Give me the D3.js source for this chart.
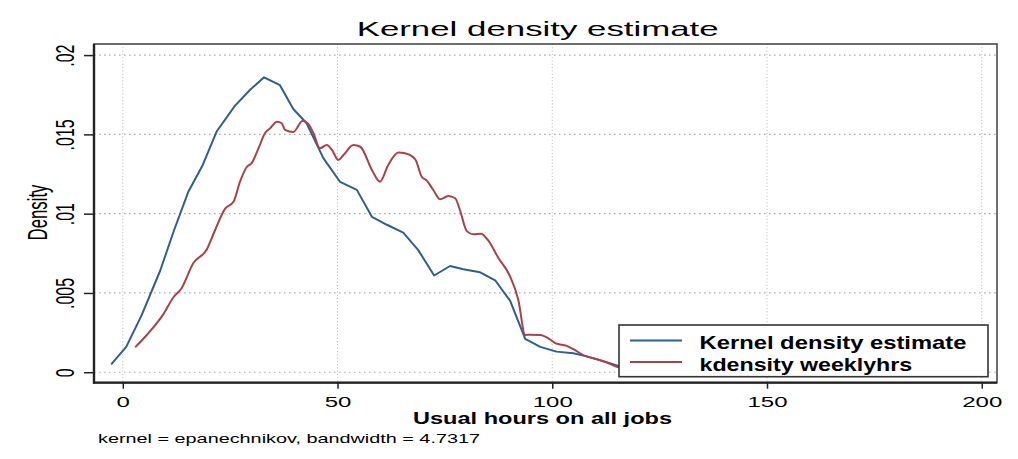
<!DOCTYPE html>
<html>
<head>
<meta charset="utf-8">
<script src="https://cdn.jsdelivr.net/npm/d3@7"></script>
<style>
  html, body { margin: 0; padding: 0; background: #fff; }
  svg { display: block; }
  text { font-family: "Liberation Sans", Arial, Helvetica, sans-serif; fill: #000; }
</style>
</head>
<body>
<svg id="chart" width="1018" height="459"></svg>
<script>
// Usual weekly hours: x (hours) and estimated density
const kdeHours = [-2.7, 0.8, 4.4, 8.7, 12.0, 15.3, 18.5, 21.9, 26.1, 29.6, 32.9, 36.6, 39.7, 42.8,
  46.7, 50.6, 54.5, 58.0, 61.5, 65.3, 68.8, 72.5, 76.2, 79.3, 83.2, 86.7, 90.2, 93.7, 97.2,
  101.0, 104.9, 108.0, 111.9, 115.4, 119.0, 122.6];
const kdeDensity = [0.0005, 0.0016, 0.0036, 0.0064, 0.0090, 0.0114, 0.0130, 0.0152, 0.0168, 0.0178,
  0.0186, 0.0181, 0.0166, 0.0157, 0.0135, 0.0120, 0.0115, 0.0098, 0.0093, 0.0088, 0.0077, 0.0061,
  0.0067, 0.0065, 0.0063, 0.0058, 0.0045, 0.0021, 0.0016, 0.0013, 0.0012, 0.0010, 0.0007, 0.0004,
  0.0002, 0.0001];

const weeklyHours = [2.9, 5.6, 9.5, 11.8, 13.7, 16.4, 19.6, 21.5, 23.8, 25.8, 27.3, 28.9, 30.0, 31.6,
  33.1, 34.3, 35.9, 37.0, 37.8, 39.7, 41.9, 43.2, 44.4, 45.9, 47.5, 48.7, 50.2, 51.4, 53.7, 55.3,
  58.0, 59.9, 61.8, 64.2, 65.7, 68.1, 69.6, 70.8, 72.3, 73.9, 75.8, 77.4, 78.5, 80.1, 81.6, 83.4,
  85.0, 87.5, 90.2, 92.1, 93.7, 94.8, 97.2, 99.1, 100.7, 103.4, 104.9, 107.6, 110.4, 112.7, 115.0,
  118.0, 122.0];
const weeklyDensity = [0.00158, 0.00235, 0.00368, 0.00473, 0.00530, 0.00687, 0.00776, 0.00897,
  0.01030, 0.01076, 0.01202, 0.01296, 0.01318, 0.01412, 0.01507, 0.01538, 0.01580, 0.01570, 0.01528,
  0.01515, 0.01586, 0.01566, 0.01507, 0.01412, 0.01433, 0.01402, 0.01339, 0.01370, 0.01433, 0.01422,
  0.01276, 0.01202, 0.01307, 0.01385, 0.01381, 0.01343, 0.01233, 0.01208, 0.01149, 0.01091, 0.01112,
  0.01097, 0.01023, 0.00890, 0.00870, 0.00874, 0.00834, 0.00719, 0.00603, 0.00456, 0.00235, 0.00237,
  0.00235, 0.00214, 0.00183, 0.00166, 0.00145, 0.00103, 0.00082, 0.00061, 0.00035, 0.00020, 0.00010];

const xTickValues = [0, 50, 100, 150, 200];
const yTickValues = [0, 0.005, 0.01, 0.015, 0.02];
const yTickLabels = ["0", ".005", ".01", ".015", ".02"];
const seriesNames = ["Kernel density estimate", "kdensity weeklyhrs"];
const titleText = "Kernel density estimate";
const xTitle = "Usual hours on all jobs";
const yTitle = "Density";
const noteText = "kernel = epanechnikov, bandwidth = 4.7317";

const blue = "#2f5f8c";
const red = "#a6434a";

const svg = d3.select("#chart");
const plot = { left: 94, right: 997, top: 44, bottom: 382.7 };

const x = d3.scaleLinear().domain([-6.7, 203.55]).range([plot.left, plot.right]);
const y = d3.scaleLinear().domain([-0.00066, 0.0207]).range([plot.bottom, plot.top]);

// gridlines
const grid = svg.append("g");
grid.selectAll("line.h").data(yTickValues).join("line")
  .attr("x1", plot.left).attr("x2", plot.right)
  .attr("y1", d => y(d)).attr("y2", d => y(d))
  .attr("stroke", "#aaaaaa").attr("stroke-width", 1.2)
  .attr("stroke-dasharray", "1.6 3.4");
grid.selectAll("line.v").data(xTickValues).join("line")
  .attr("y1", plot.top).attr("y2", plot.bottom)
  .attr("x1", d => x(d)).attr("x2", d => x(d))
  .attr("stroke", "#b4b4b4").attr("stroke-width", 1)
  .attr("stroke-dasharray", "1 2.3");

// plot region outline
svg.append("rect")
  .attr("x", plot.left).attr("y", plot.top)
  .attr("width", plot.right - plot.left).attr("height", plot.bottom - plot.top)
  .attr("fill", "none").attr("stroke", "#4a4a4a").attr("stroke-width", 1.6);

// curves
const clip = svg.append("clipPath").attr("id", "plotclip").append("rect")
  .attr("x", plot.left).attr("y", plot.top)
  .attr("width", plot.right - plot.left).attr("height", plot.bottom - plot.top);

const kdePts = kdeHours.map((h, i) => [h, kdeDensity[i]]);
const weeklyPts = weeklyHours.map((h, i) => [h, weeklyDensity[i]]);

const lineLinear = d3.line().x(d => x(d[0])).y(d => y(d[1]));
const lineSmooth = d3.line().x(d => x(d[0])).y(d => y(d[1])).curve(d3.curveMonotoneX);

const curves = svg.append("g").attr("clip-path", "url(#plotclip)");
curves.append("path").datum(kdePts).attr("d", lineLinear)
  .attr("fill", "none").attr("stroke", blue).attr("stroke-width", 2).attr("stroke-linejoin", "round");
curves.append("path").datum(weeklyPts).attr("d", lineSmooth)
  .attr("fill", "none").attr("stroke", red).attr("stroke-width", 2).attr("stroke-linejoin", "round");

// axes
const xAxis = svg.append("g").attr("transform", `translate(0,${plot.bottom})`)
  .call(d3.axisBottom(x).tickValues(xTickValues).tickSize(6).tickSizeOuter(0).tickFormat(d3.format("d")));
xAxis.select(".domain").remove();
xAxis.selectAll(".tick line").attr("stroke", "#222").attr("stroke-width", 1.5);
xAxis.selectAll(".tick text")
  .attr("y", 24).attr("dy", 0)
  .attr("font-size", 15)
  .attr("transform", "scale(1.6,1)")
  .style("font-family", "'Liberation Sans', Arial, sans-serif");

const yAxis = svg.append("g").attr("transform", `translate(${plot.left},0)`)
  .call(d3.axisLeft(y).tickValues(yTickValues).tickSize(10).tickSizeOuter(0)
    .tickFormat((d, i) => yTickLabels[i]));
yAxis.select(".domain").remove();
yAxis.selectAll(".tick line").attr("stroke", "#222").attr("stroke-width", 1.5);
yAxis.selectAll(".tick text")
  .attr("x", null).attr("dy", null)
  .attr("text-anchor", "middle")
  .attr("font-size", 16)
  .attr("transform", "translate(-20,0) scale(1.6,1) rotate(-90)")
  .style("font-family", "'Liberation Sans', Arial, sans-serif");

// axis lines
svg.append("line").attr("x1", plot.left).attr("x2", plot.left)
  .attr("y1", plot.top).attr("y2", plot.bottom + 1)
  .attr("stroke", "#222").attr("stroke-width", 2.4);
svg.append("line").attr("x1", plot.left - 1).attr("x2", plot.right)
  .attr("y1", plot.bottom).attr("y2", plot.bottom)
  .attr("stroke", "#222").attr("stroke-width", 2.2);

// titles
svg.append("text").attr("x", 356.7).attr("y", 35.7)
  .attr("font-size", 21).attr("textLength", 362).attr("lengthAdjust", "spacingAndGlyphs")
  .text(titleText);

svg.append("text").attr("x", 413).attr("y", 424)
  .attr("font-size", 15.8).attr("font-weight", "bold")
  .attr("textLength", 259).attr("lengthAdjust", "spacingAndGlyphs")
  .text(xTitle);

svg.append("text")
  .attr("transform", "translate(47,212.5) scale(1.6,1) rotate(-90)")
  .attr("text-anchor", "middle").attr("font-size", 16.8)
  .text(yTitle);

svg.append("text").attr("x", 98).attr("y", 442.5)
  .attr("font-size", 13.5).attr("textLength", 382).attr("lengthAdjust", "spacingAndGlyphs")
  .text(noteText);

// legend
const legend = svg.append("g");
legend.append("rect").attr("x", 619).attr("y", 325).attr("width", 369).attr("height", 51.7)
  .attr("fill", "#fff").attr("stroke", "#333").attr("stroke-width", 1.6);
const legendRows = [
  { name: seriesNames[0], color: blue, ly: 340.5, ty: 348.5, w: 267 },
  { name: seriesNames[1], color: red, ly: 362, ty: 370.5, w: 212.7 }
];
legendRows.forEach(r => {
  legend.append("line").attr("x1", 630).attr("x2", 682).attr("y1", r.ly).attr("y2", r.ly)
    .attr("stroke", r.color).attr("stroke-width", 2);
  legend.append("text").attr("x", 699.5).attr("y", r.ty)
    .attr("font-size", 18.5).attr("font-weight", "bold")
    .attr("textLength", r.w).attr("lengthAdjust", "spacingAndGlyphs")
    .text(r.name);
});
</script>
</body>
</html>
